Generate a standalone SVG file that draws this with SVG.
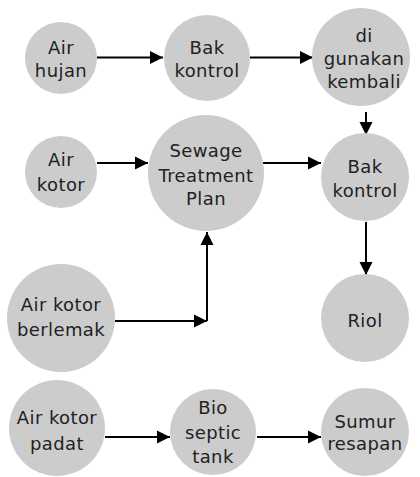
<svg xmlns="http://www.w3.org/2000/svg" width="420" height="477" viewBox="0 0 420 477">
<style>
.n{fill:#cccccc}
.t{font-family:"DejaVu Sans","Liberation Sans",sans-serif;font-size:18px;letter-spacing:0.4px;fill:#222;text-anchor:middle}
.c{stroke:#000;stroke-width:2;fill:none}
</style>
<defs>
<marker id="a" markerWidth="14" markerHeight="14" refX="13" refY="7" orient="auto" markerUnits="userSpaceOnUse">
<path d="M0,0.5 L13,7 L0,13.5 Z" fill="#000"/>
</marker>
</defs>
<rect width="420" height="477" fill="#fff"/>
<g id="connectors">
<path class="c" d="M97,57.5 H163" marker-end="url(#a)"/>
<path class="c" d="M250,57.5 H313" marker-end="url(#a)"/>
<path class="c" d="M366,112 V135" marker-end="url(#a)"/>
<path class="c" d="M97,163 H148" marker-end="url(#a)"/>
<path class="c" d="M263,163 H321" marker-end="url(#a)"/>
<path class="c" d="M366,222 V275" marker-end="url(#a)"/>
<path class="c" d="M115,321 H207" marker-end="url(#a)"/>
<path class="c" d="M207,321 V232" marker-end="url(#a)"/>
<path class="c" d="M105,437 H170" marker-end="url(#a)"/>
<path class="c" d="M257,437 H321" marker-end="url(#a)"/>
</g>
<g id="air-hujan"><circle class="n" cx="61" cy="58" r="36"/><text class="t" x="61" y="54">Air</text><text class="t" x="61" y="77">hujan</text></g>
<g id="bak-kontrol-1"><circle class="n" cx="207" cy="58" r="43"/><text class="t" x="207" y="54">Bak</text><text class="t" x="207" y="77">kontrol</text></g>
<g id="digunakan"><circle class="n" cx="361" cy="57" r="49"/><text class="t" x="364" y="42">di</text><text class="t" x="364" y="65">gunakan</text><text class="t" x="364" y="88">kembali</text></g>
<g id="air-kotor"><circle class="n" cx="61" cy="172" r="36"/><text class="t" x="61" y="166">Air</text><text class="t" x="61" y="191">kotor</text></g>
<g id="sewage"><circle class="n" cx="206" cy="173" r="58"/><text class="t" x="206" y="157">Sewage</text><text class="t" x="206" y="182">Treatment</text><text class="t" x="206" y="205">Plan</text></g>
<g id="bak-kontrol-2"><circle class="n" cx="365" cy="177" r="44"/><text class="t" x="365" y="173">Bak</text><text class="t" x="365" y="197">kontrol</text></g>
<g id="riol"><circle class="n" cx="365" cy="318" r="44"/><text class="t" x="365" y="327">Riol</text></g>
<g id="air-kotor-berlemak"><circle class="n" cx="61" cy="318" r="54"/><text class="t" x="61" y="311">Air kotor</text><text class="t" x="61" y="336">berlemak</text></g>
<g id="air-kotor-padat"><circle class="n" cx="57" cy="428" r="48"/><text class="t" x="57" y="424">Air kotor</text><text class="t" x="57" y="450">padat</text></g>
<g id="bio-septic"><circle class="n" cx="213" cy="432" r="43"/><text class="t" x="213" y="414">Bio</text><text class="t" x="213" y="439">septic</text><text class="t" x="213" y="463">tank</text></g>
<g id="sumur"><circle class="n" cx="365" cy="432" r="44"/><text class="t" x="365" y="428">Sumur</text><text class="t" x="365" y="450">resapan</text></g>
</svg>
